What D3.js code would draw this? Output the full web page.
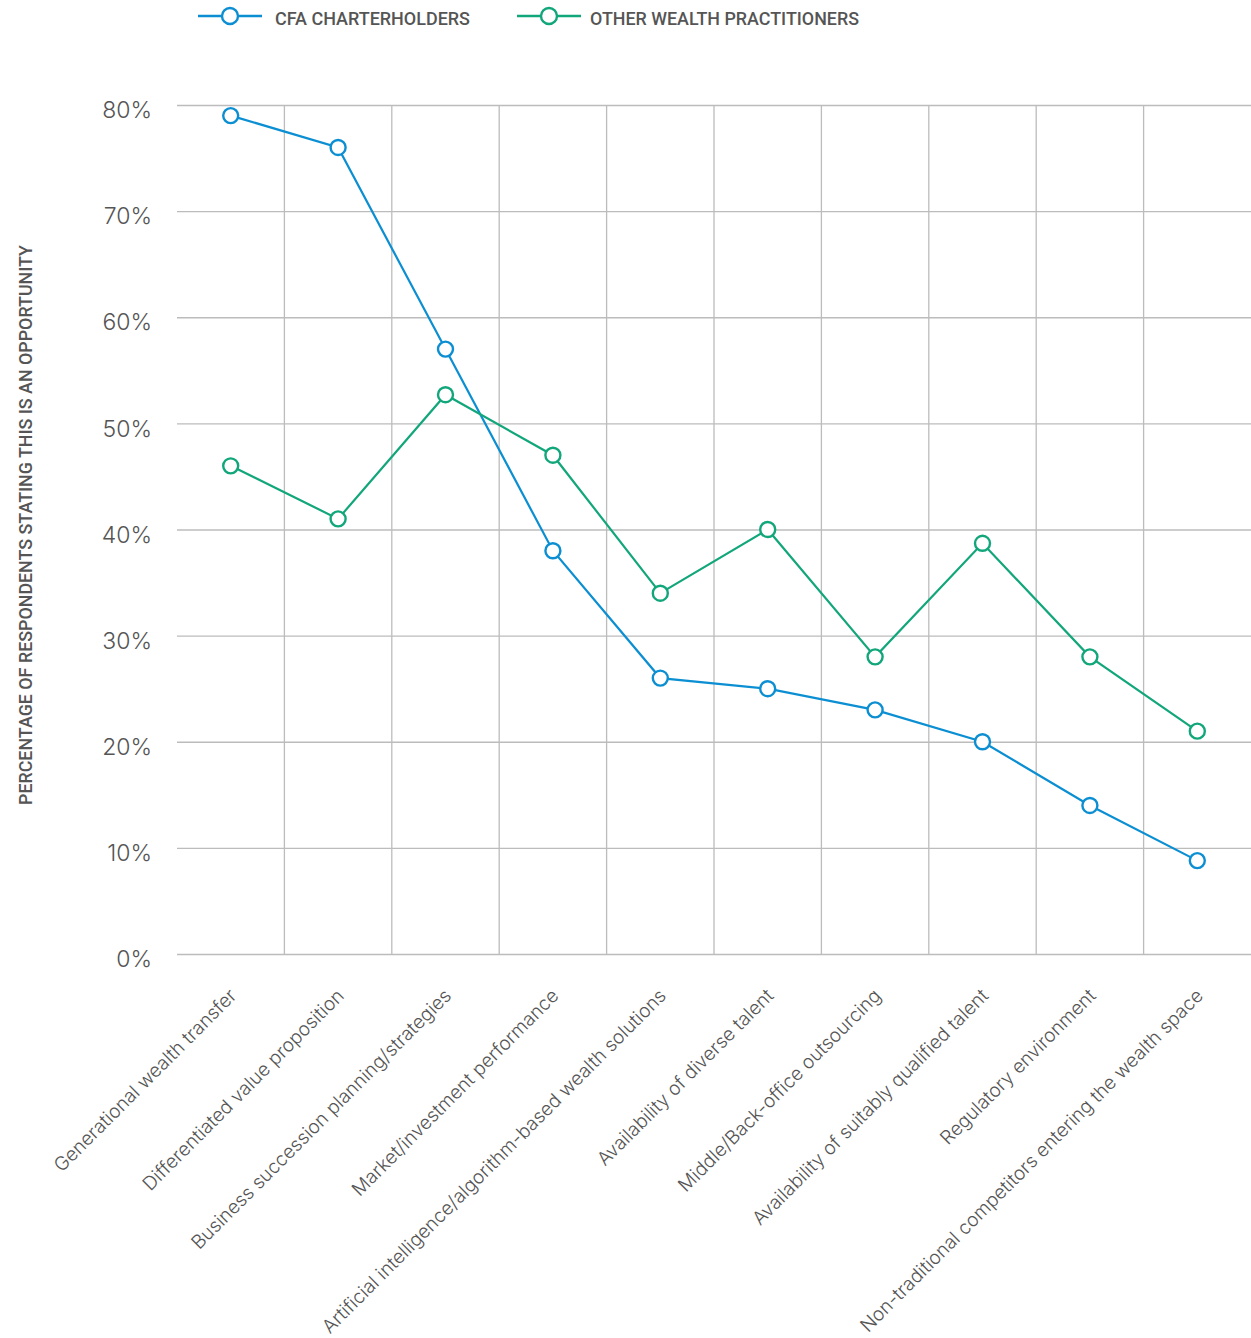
<!DOCTYPE html>
<html>
<head>
<meta charset="utf-8">
<script src="https://cdn.jsdelivr.net/npm/d3@7"></script>
<style>
  body { margin: 0; background: #fff; }
  svg { display: block; }
</style>
</head>
<body>
<svg id="chart"></svg>
<script>
// Chart data
const categories = [
  'Generational wealth transfer',
  'Differentiated value proposition',
  'Business succession planning/strategies',
  'Market/investment performance',
  'Artificial intelligence/algorithm-based wealth solutions',
  'Availability of diverse talent',
  'Middle/Back-office outsourcing',
  'Availability of suitably qualified talent',
  'Regulatory environment',
  'Non-traditional competitors entering the wealth space'
];
const cfaValues = [79, 76, 57, 38, 26, 25, 23, 20, 14, 8.8];
const otherValues = [46, 41, 52.7, 47, 34, 40, 28, 38.7, 28, 21];
const yTicks = [0, 10, 20, 30, 40, 50, 60, 70, 80];
const seriesNames = ['CFA CHARTERHOLDERS', 'OTHER WEALTH PRACTITIONERS'];

const W = 1251, H = 1338;
const margin = { top: 105, right: 0, bottom: 384, left: 177 };
const width = W - margin.left - margin.right;
const height = H - margin.top - margin.bottom;

const colors = ['#0b8fd2', '#12a67b'];
const textColor = '#555';
const gridColor = '#bcbcbc';
const labelFont = 'Inter, "Open Sans", sans-serif';
const headFont = 'Roboto, "Noto Sans", sans-serif';

const svg = d3.select('#chart')
  .attr('width', W)
  .attr('height', H);

const g = svg.append('g')
  .attr('transform', `translate(${margin.left}, ${margin.top})`);

// Scales
const xScale = d3.scaleBand()
  .domain(categories)
  .range([0, width]);

const yScale = d3.scaleLinear()
  .domain([0, 80])
  .range([height, 0]);

// Horizontal gridlines + y labels
const yAxis = d3.axisLeft(yScale)
  .tickValues(yTicks)
  .tickSize(-width)
  .tickPadding(25)
  .tickFormat(d => d + '%');

g.append('g')
  .attr('class', 'y-axis')
  .call(yAxis)
  .call(sel => sel.select('.domain').remove())
  .call(sel => sel.selectAll('line').attr('stroke', gridColor).attr('stroke-width', 1.3))
  .call(sel => sel.selectAll('text')
    .attr('fill', textColor)
    .attr('font-family', labelFont)
    .attr('font-weight', 300)
    .attr('font-size', 23)
    .attr('dy', '0.55em'));

// Vertical gridlines at band boundaries
g.append('g')
  .selectAll('line')
  .data(categories.slice(1))
  .join('line')
  .attr('x1', d => xScale(d))
  .attr('x2', d => xScale(d))
  .attr('y1', 0)
  .attr('y2', height)
  .attr('stroke', gridColor)
  .attr('stroke-width', 1.3);

// Category labels
const xAxis = d3.axisBottom(xScale).tickSize(0).tickPadding(0);
g.append('g')
  .attr('class', 'x-axis')
  .attr('transform', `translate(0, ${height})`)
  .call(xAxis)
  .call(sel => sel.select('.domain').remove())
  .call(sel => sel.selectAll('text')
    .attr('fill', textColor)
    .attr('font-family', labelFont)
    .attr('font-weight', 300)
    .attr('font-size', 19)
    .attr('text-anchor', 'end')
    .attr('dy', 0)
    .attr('transform', 'translate(7, 43) rotate(-45)'));

// Lines and markers
const series = [cfaValues, otherValues];
const line = d3.line()
  .x((d, i) => xScale(categories[i]) + xScale.bandwidth() / 2)
  .y(d => yScale(d));

series.forEach((values, s) => {
  g.append('path')
    .datum(values)
    .attr('fill', 'none')
    .attr('stroke', colors[s])
    .attr('stroke-width', 2.2)
    .attr('d', line);

  g.append('g')
    .selectAll('circle')
    .data(values)
    .join('circle')
    .attr('cx', (d, i) => xScale(categories[i]) + xScale.bandwidth() / 2)
    .attr('cy', d => yScale(d))
    .attr('r', 7.5)
    .attr('fill', '#fff')
    .attr('stroke', colors[s])
    .attr('stroke-width', 2.4);
});

// Y axis title
svg.append('text')
  .attr('transform', 'translate(32, 525) rotate(-90)')
  .attr('text-anchor', 'middle')
  .attr('fill', textColor)
  .attr('font-family', headFont)
  .attr('font-weight', 500)
  .attr('font-size', 19)
  .attr('textLength', 560)
  .attr('lengthAdjust', 'spacingAndGlyphs')
  .text('PERCENTAGE OF RESPONDENTS STATING THIS IS AN OPPORTUNITY');

// Legend
const legendX = [198, 517];
const legendTextX = [77, 73];
const legendTextW = [195, 269];
const legend = svg.append('g');
seriesNames.forEach((name, s) => {
  const lg = legend.append('g').attr('transform', `translate(${legendX[s]}, 16)`);
  lg.append('line')
    .attr('x1', 0).attr('x2', 64)
    .attr('stroke', colors[s])
    .attr('stroke-width', 2.4);
  lg.append('circle')
    .attr('cx', 32).attr('r', 8)
    .attr('fill', '#fff')
    .attr('stroke', colors[s])
    .attr('stroke-width', 2.4);
  lg.append('text')
    .attr('x', legendTextX[s])
    .attr('y', 9)
    .attr('fill', textColor)
    .attr('font-family', headFont)
    .attr('font-weight', 500)
    .attr('font-size', 18.5)
    .attr('textLength', legendTextW[s])
    .attr('lengthAdjust', 'spacingAndGlyphs')
    .text(name);
});
</script>
</body>
</html>
